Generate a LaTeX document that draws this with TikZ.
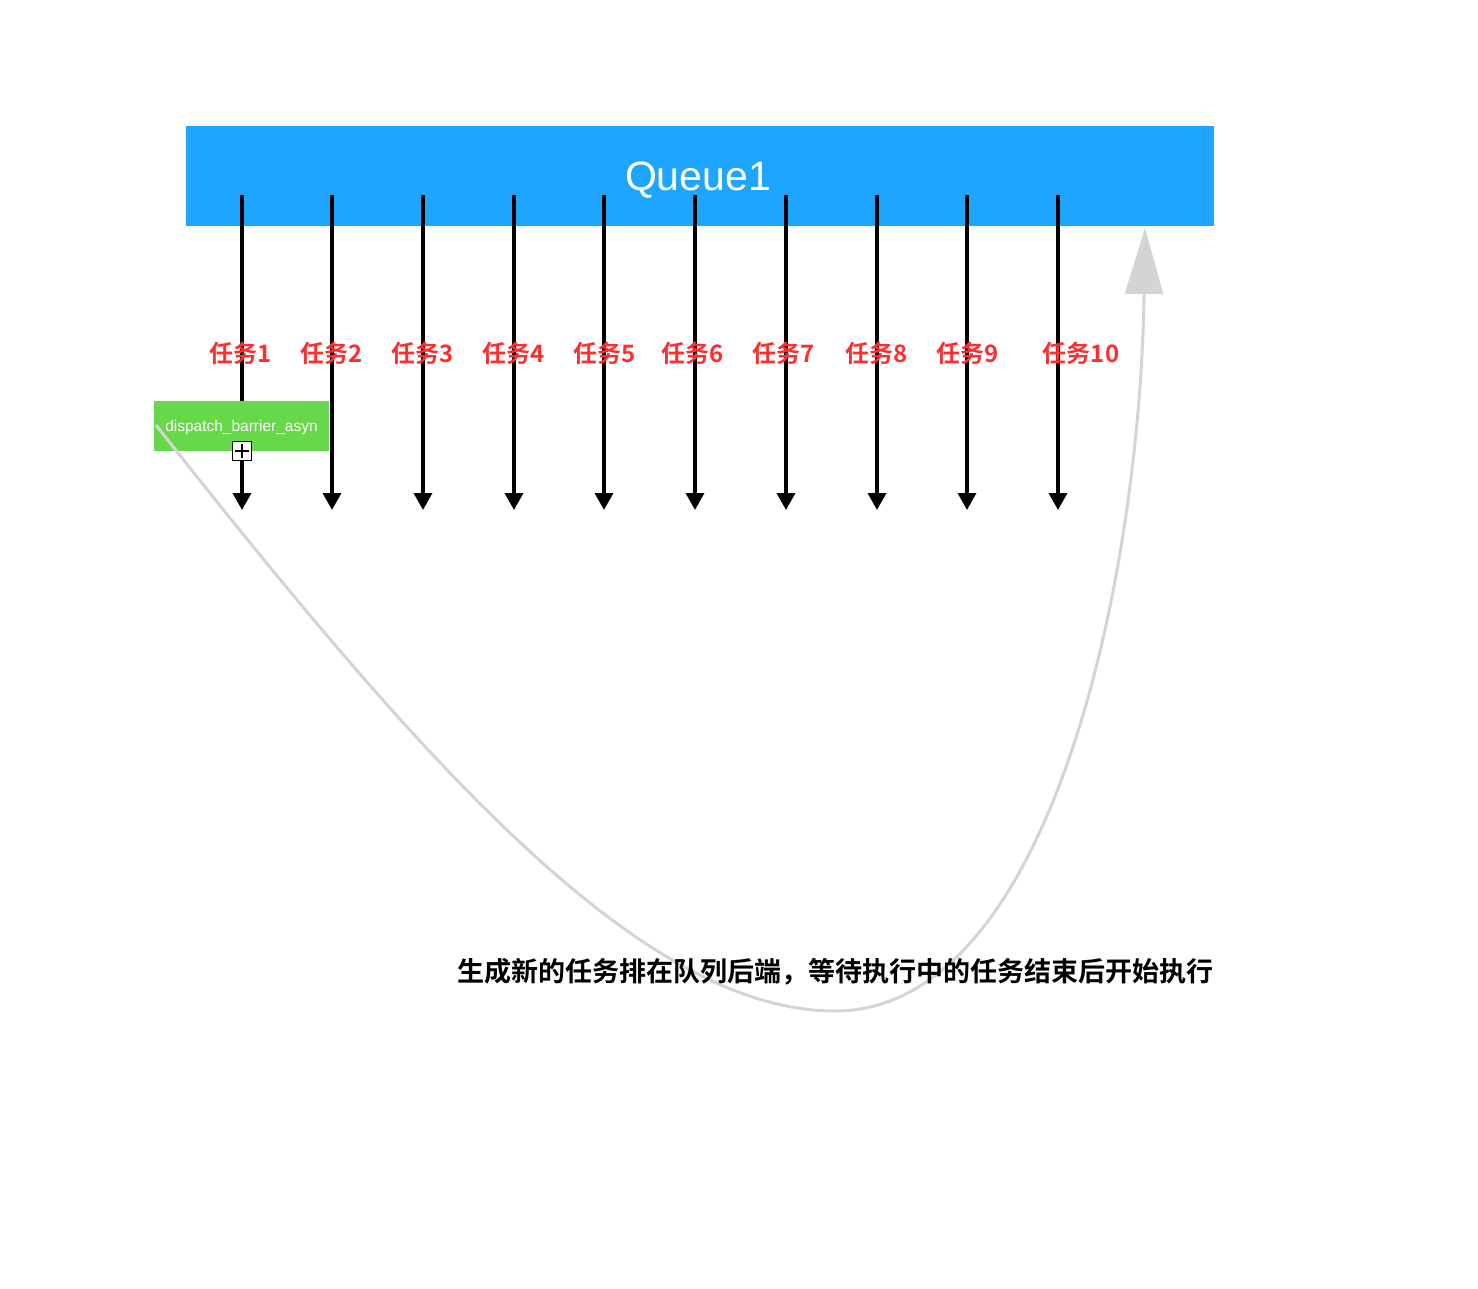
\documentclass[tikz,border=0pt]{standalone}
\usepackage{fontspec}
\setmainfont{Liberation Sans}
\newfontfamily\cjk{Noto Sans CJK SC}[BoldFont={* Bold}]
\usetikzlibrary{arrows.meta,calc}
\definecolor{qblue}{HTML}{1EA5FF}
\definecolor{bgreen}{HTML}{66D84A}
\definecolor{tred}{HTML}{FF2D2D}
\definecolor{cgray}{HTML}{D4D4D4}
\tikzset{
  taskarrow/.style={line width=3.5pt,-{Triangle[width=18pt,length=17pt]}},
  tasklabel/.style={text=tred,font=\cjk\bfseries\fontsize{24}{26}\selectfont,inner sep=0pt},
  backcurve/.style={draw=cgray,line width=3pt,-{Triangle[width=38pt,length=66pt]}},
}
\begin{document}
\begin{tikzpicture}[x=1pt,y=-1pt]
\useasboundingbox (0,0) rectangle (1478,1288);
\node[fill=qblue,minimum width=1028pt,minimum height=100pt,inner sep=0pt,anchor=north west] (queue) at (186,126) {};
\node[text=white,font=\fontsize{41}{44}\selectfont,inner sep=0pt] (qlabel) at (698,180) {Queue1};
\foreach \i/\x/\lx in {1/242/241,2/332/332,3/423/423,4/514/514,5/604/605,6/695/693,7/786/784,8/877/877,9/967/968,10/1058/1081}{
  \coordinate (t\i) at (\x,195);
  \coordinate (b\i) at (\x,510);
  \draw[taskarrow] (t\i) -- (b\i);
  \node[tasklabel] (l\i) at (\lx,353) {任务\i};
}
\node[fill=bgreen,minimum width=175pt,minimum height=50pt,inner sep=0pt,anchor=north west] (barrier) at (154,401) {};
\node[text=white,font=\fontsize{15.5}{17}\selectfont,inner sep=0pt] (blabel) at (241.5,427) {dispatch\_barrier\_asyn};
\node[draw=black,fill=white,line width=1pt,minimum size=19pt,inner sep=0pt] (plus) at (242,451) {};
\draw[line width=1.2pt] ($(plus.center)+(-7,0)$) -- ($(plus.center)+(7,0)$);
\draw[line width=1.2pt] ($(plus.center)+(0,-7)$) -- ($(plus.center)+(0,7)$);
\coordinate (cs) at (156,425);
\coordinate (cm) at (835,1011);
\coordinate (ce) at (1145,228);
\draw[backcurve] (cs) .. controls (420,760) and (640,1011) .. (cm) .. controls (1050,1011) and (1140,580) .. (ce);
\node[font=\cjk\bfseries\fontsize{27}{29}\selectfont,inner sep=0pt,anchor=west] (note) at (457,972) {生成新的任务排在队列后端，等待执行中的任务结束后开始执行};
\end{tikzpicture}
\end{document}
